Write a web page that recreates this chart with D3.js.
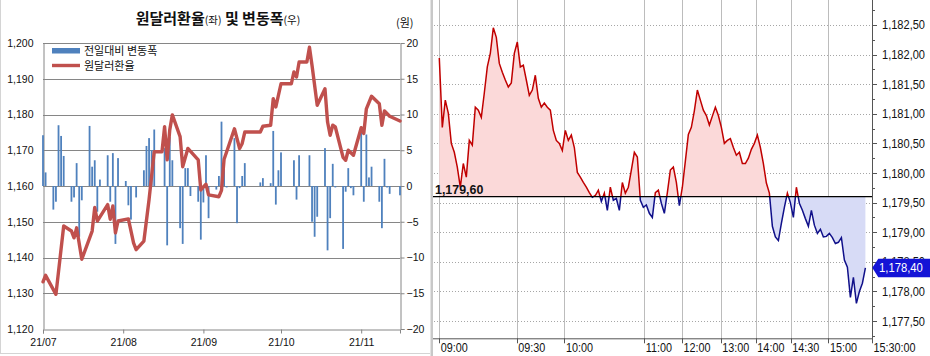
<!DOCTYPE html>
<html><head><meta charset="utf-8">
<script src="https://cdn.jsdelivr.net/npm/d3@7"></script>
<style>
html,body{margin:0;padding:0;background:#fff;}
svg{display:block;}
</style></head><body>
<svg id="c" width="930" height="356"></svg>
<script>
// ---------- left chart data ----------
const rateDates = ["2021-07-01","2021-07-02","2021-07-06","2021-07-09","2021-07-12","2021-07-13","2021-07-14","2021-07-16","2021-07-20","2021-07-21","2021-07-22","2021-07-26","2021-07-27","2021-07-28","2021-07-29","2021-07-30","2021-08-03","2021-08-05","2021-08-06","2021-08-09","2021-08-11","2021-08-13","2021-08-16","2021-08-17","2021-08-18","2021-08-19","2021-08-20","2021-08-23","2021-08-24","2021-08-26","2021-08-30","2021-08-31","2021-09-02","2021-09-03","2021-09-07","2021-09-08","2021-09-09","2021-09-10","2021-09-13","2021-09-15","2021-09-16","2021-09-17","2021-09-23","2021-09-24","2021-09-27","2021-09-28","2021-09-29","2021-10-01","2021-10-05","2021-10-06","2021-10-07","2021-10-08","2021-10-11","2021-10-12","2021-10-13","2021-10-15","2021-10-18","2021-10-19","2021-10-20","2021-10-21","2021-10-22","2021-10-25","2021-10-26","2021-10-27","2021-10-29","2021-11-01","2021-11-02","2021-11-03","2021-11-05","2021-11-08","2021-11-09","2021-11-10","2021-11-12","2021-11-16"];
const rateValues = [1133.2,1135.0,1129.7,1148.8,1147.4,1145.5,1148.3,1139.5,1147.4,1154.0,1150.2,1154.8,1150.7,1154.4,1146.9,1150.2,1150.8,1144.1,1142.2,1144.6,1156.2,1169.6,1169.6,1176.6,1167.3,1175.7,1179.9,1173.8,1165.4,1170.5,1167.3,1158.9,1160.5,1157.5,1157.0,1158.8,1167.5,1169.6,1176.0,1170.5,1171.9,1175.1,1175.1,1176.7,1177.0,1184.4,1182.1,1188.6,1188.6,1191.9,1190.5,1194.7,1194.7,1198.8,1193.7,1182.6,1187.2,1177.9,1174.2,1177.0,1176.5,1168.0,1167.2,1170.0,1168.6,1176.3,1174.7,1181.6,1185.1,1183.0,1177.0,1181.0,1179.5,1178.2];
const changeDates = ["2021-07-01","2021-07-02","2021-07-05","2021-07-06","2021-07-07","2021-07-08","2021-07-09","2021-07-12","2021-07-13","2021-07-14","2021-07-15","2021-07-16","2021-07-19","2021-07-20","2021-07-21","2021-07-22","2021-07-23","2021-07-26","2021-07-27","2021-07-28","2021-07-29","2021-07-30","2021-08-02","2021-08-03","2021-08-04","2021-08-06","2021-08-09","2021-08-10","2021-08-11","2021-08-12","2021-08-13","2021-08-17","2021-08-18","2021-08-19","2021-08-20","2021-08-23","2021-08-24","2021-08-25","2021-08-26","2021-08-27","2021-08-30","2021-08-31","2021-09-01","2021-09-02","2021-09-03","2021-09-06","2021-09-07","2021-09-08","2021-09-09","2021-09-10","2021-09-13","2021-09-14","2021-09-15","2021-09-16","2021-09-17","2021-09-23","2021-09-24","2021-09-27","2021-09-28","2021-09-29","2021-09-30","2021-10-01","2021-10-06","2021-10-07","2021-10-08","2021-10-12","2021-10-13","2021-10-14","2021-10-15","2021-10-18","2021-10-19","2021-10-20","2021-10-21","2021-10-22","2021-10-25","2021-10-26","2021-10-27","2021-10-28","2021-10-29","2021-11-01","2021-11-02","2021-11-03","2021-11-04","2021-11-05","2021-11-08","2021-11-09","2021-11-10","2021-11-11","2021-11-12","2021-11-16"];
const changeValues = [7.1,1.9,-3.3,-2.2,8.5,7.0,4.2,-2.2,-1.6,3.2,-7.1,-2.0,8.4,2.7,3.6,-3.6,0.9,4.3,-2.2,4.6,-8.1,3.9,0.7,-2.7,-4.7,-1.6,2.2,5.6,6.7,5.0,7.9,5.3,-8.3,6.9,3.6,-5.9,-8.1,2.5,2.5,-1.4,-2.2,-7.5,-2.3,4.3,-4.5,-0.5,1.4,9.0,2.5,-0.2,6.7,-5.2,-0.3,1.4,3.2,0.5,1.1,0.4,7.7,-2.6,2.2,4.7,3.6,-1.9,4.3,4.3,-5.0,-7.1,-4.3,5.3,-9.0,-4.5,3.1,-0.2,-8.8,-0.8,2.5,-0.3,-1.3,7.8,-2.2,7.2,1.2,2.7,-2.2,-5.9,3.8,-0.2,-1.1,-1.3];
const monthTickDates = ["2021-07-01","2021-08-01","2021-09-01","2021-10-01","2021-11-01"];
const monthTickLabels = ["21/07","21/08","21/09","21/10","21/11"];
const leftTicks = [1120,1130,1140,1150,1160,1170,1180,1190,1200];
const rightTicks = [-20,-15,-10,-5,0,5,10,15,20];

// ---------- right chart data ----------
const prevClose = 1179.60;
const lastPrice = 1178.40;
const intraday = [1181.94,1180.77,1181.23,1181.01,1180.50,1180.35,1180.10,1179.76,1180.16,1179.93,
1180.55,1180.47,1181.11,1181.06,1180.94,1181.35,1181.79,1182.02,1182.45,1182.29,
1181.85,1181.70,1181.57,1181.45,1181.52,1182.02,1182.21,1181.79,1181.82,1181.57,
1181.31,1181.40,1181.65,1181.26,1181.11,1181.18,1181.11,1181.06,1180.72,1180.55,
1180.50,1180.38,1180.72,1180.55,1180.64,1180.43,1180.01,1179.93,1179.84,1179.76,
1179.67,1179.59,1179.62,1179.71,1179.52,1179.66,1179.37,1179.76,1179.54,1179.57,
1179.37,1179.84,1179.66,1179.76,1180.05,1180.35,1180.27,1179.54,1179.42,1179.46,
1179.32,1179.25,1179.67,1179.71,1179.49,1179.32,1179.67,1180.05,1180.10,1179.84,
1179.45,1179.76,1180.20,1180.65,1180.77,1181.05,1181.40,1181.23,1181.06,1180.97,
1180.81,1180.96,1181.11,1180.97,1180.77,1180.50,1180.55,1180.58,1180.43,1180.30,
1180.35,1180.16,1180.16,1180.25,1180.40,1180.50,1180.64,1180.43,1180.16,1179.83,
1179.66,1179.10,1178.92,1178.86,1179.15,1179.42,1179.66,1179.50,1179.25,1179.76,
1179.49,1179.37,1179.23,1179.10,1179.37,1179.12,1178.98,1179.05,1178.92,1178.93,
1178.98,1178.91,1178.81,1178.83,1178.91,1178.53,1178.41,1177.90,1178.24,1177.80,
1178.00,1178.14,1178.40];
const timeLabels = ["09:00","09:30","10:00","11:00","12:00","13:00","14:00","14:30","15:00","15:30:00"];
const timeTickIndex = [0,25.8,41.7,68.3,80.9,93.8,105.5,117.1,129.7,144.2];
const priceTicks = [1177.5,1178.0,1178.5,1179.0,1179.5,1180.0,1180.5,1181.0,1181.5,1182.0,1182.5];
const priceMinorTicks = [1177.25,1177.75,1178.25,1178.75,1179.25,1179.75,1180.25,1180.75,1181.25,1181.75,1182.25,1182.75];

// ---------- drawing ----------
const svg = d3.select("#c");
const parse = d3.timeParse("%Y-%m-%d");
const KFONT = "'Noto Sans CJK KR','Noto Sans',sans-serif";
const NFONT = "'Liberation Sans',Arial,sans-serif";

function squeeze(sel, f){
  sel.each(function(){
    const w = this.getComputedTextLength();
    d3.select(this).attr("textLength", w*f).attr("lengthAdjust","spacingAndGlyphs");
  });
}

// ===== LEFT =====
const L = {left:43, right:400, top:43, bottom:329};
const xL = d3.scaleTime().domain([parse("2021-07-01"), parse("2021-11-16")]).range([L.left, L.right]);
const yL = d3.scaleLinear().domain([1120,1200]).range([L.bottom, L.top]);
const yR = d3.scaleLinear().domain([-20,20]).range([L.bottom, L.top]);
const gridCol = "#868686";

const gl = svg.append("g");
gl.append("line").attr("x1",0.5).attr("x2",0.5).attr("y1",0).attr("y2",353).attr("stroke","#d4d4d4");
gl.append("line").attr("x1",0).attr("x2",430).attr("y1",353.5).attr("y2",353.5).attr("stroke","#d4d4d4");

gl.selectAll("line.grid").data(leftTicks.slice(1)).join("line")
  .attr("x1",L.left).attr("x2",L.right)
  .attr("y1",d=>Math.round(yL(d))+0.5).attr("y2",d=>Math.round(yL(d))+0.5)
  .attr("stroke",gridCol).attr("stroke-width",1);

const axL = gl.append("g").attr("transform",`translate(${L.left+0.5},0)`)
  .call(d3.axisLeft(yL).tickValues(leftTicks).tickFormat(d3.format(",")).tickSize(0).tickPadding(10));
axL.select(".domain").attr("stroke",gridCol);
axL.selectAll("text").attr("font-family",NFONT).attr("font-size",10.5).attr("fill","#111");

const axR = gl.append("g").attr("transform",`translate(${L.right+0.5},0)`)
  .call(d3.axisRight(yR).tickValues(rightTicks).tickSize(4).tickPadding(2));
axR.select(".domain").attr("stroke",gridCol);
axR.selectAll(".tick line").attr("stroke",gridCol);
axR.selectAll("text").attr("font-family",NFONT).attr("font-size",10.5).attr("fill","#111");

const axB = gl.append("g").attr("transform",`translate(0,${L.bottom+0.5})`)
  .call(d3.axisBottom(xL).tickValues(monthTickDates.map(parse)).tickFormat((d,i)=>monthTickLabels[i]).tickSize(4).tickPadding(5));
axB.select(".domain").attr("stroke",gridCol);
axB.selectAll(".tick line").attr("stroke",gridCol);
axB.selectAll("text").attr("font-family",NFONT).attr("font-size",10.5).attr("fill","#111");

const barData = changeDates.map((d,i)=>({d:parse(d), v:changeValues[i]}));
gl.selectAll("rect.bar").data(barData).join("rect")
  .attr("x",d=>xL(d.d)-0.9).attr("width",1.8)
  .attr("y",d=>Math.min(yR(0),yR(d.v)))
  .attr("height",d=>Math.abs(yR(d.v)-yR(0)))
  .attr("fill","#4f81bd");

const rateData = rateDates.map((d,i)=>({d:parse(d), v:rateValues[i]}));
gl.append("path").datum(rateData)
  .attr("d", d3.line().x(d=>xL(d.d)).y(d=>yL(d.v)))
  .attr("fill","none").attr("stroke","#c0504d").attr("stroke-width",3.4)
  .attr("stroke-linejoin","round").attr("stroke-linecap","round");

const title = gl.append("text").attr("x",218).attr("y",24).attr("text-anchor","middle")
  .attr("font-family",KFONT).attr("font-size",15).attr("font-weight","bold").attr("fill","#111");
title.append("tspan").text("원달러환율");
title.append("tspan").attr("font-size",10.5).attr("font-weight","normal").text("(좌)");
title.append("tspan").text(" 및 변동폭");
title.append("tspan").attr("font-size",10.5).attr("font-weight","normal").text("(우)");
gl.append("text").attr("x",396).attr("y",27).attr("font-family",KFONT).attr("font-size",11).attr("fill","#111").text("(원)");

gl.append("rect").attr("x",52).attr("y",48).attr("width",28).attr("height",5.5).attr("fill","#4f81bd");
gl.append("text").attr("x",84).attr("y",55).attr("font-family",KFONT).attr("font-size",11).attr("fill","#111").text("전일대비 변동폭");
gl.append("line").attr("x1",52).attr("x2",80).attr("y1",65.5).attr("y2",65.5).attr("stroke","#c0504d").attr("stroke-width",3.4);
gl.append("text").attr("x",84).attr("y",70).attr("font-family",KFONT).attr("font-size",11).attr("fill","#111").text("원달러환율");

svg.append("rect").attr("x",430.5).attr("y",0).attr("width",2.5).attr("height",356).attr("fill","#c8c8c8");

// ===== RIGHT =====
const R = {left:433, right:872, top:0, bottom:338.3};
const xI = d3.scaleLinear().domain([0, timeTickIndex[timeTickIndex.length-1]]).range([439.3, R.right]);
const yI = d3.scaleLinear().domain([1177.21, 1182.92]).range([R.bottom, R.top]);
const gr = svg.append("g");

gr.selectAll("line.hg").data(priceTicks).join("line")
  .attr("x1",R.left+1).attr("x2",R.right)
  .attr("y1",d=>Math.round(yI(d))+0.5).attr("y2",d=>Math.round(yI(d))+0.5)
  .attr("stroke","#a6a6a6").attr("stroke-dasharray","1,2");
gr.selectAll("line.vg").data(timeTickIndex.slice(0,-1)).join("line")
  .attr("x1",d=>Math.round(xI(d))+0.5).attr("x2",d=>Math.round(xI(d))+0.5)
  .attr("y1",R.top).attr("y2",R.bottom)
  .attr("stroke","#bcbcbc");

const yBase = yI(prevClose);
const defs = svg.append("defs");
defs.append("clipPath").attr("id","above").append("rect")
  .attr("x",R.left).attr("y",R.top).attr("width",R.right-R.left).attr("height",yBase-R.top);
defs.append("clipPath").attr("id","below").append("rect")
  .attr("x",R.left).attr("y",yBase).attr("width",R.right-R.left).attr("height",R.bottom-yBase);

const area = d3.area().x((d,i)=>xI(i)).y0(yBase).y1(d=>yI(d));
const line = d3.line().x((d,i)=>xI(i)).y(d=>yI(d));
gr.append("path").datum(intraday).attr("d",area).attr("fill","#fbd9d9").attr("clip-path","url(#above)");
gr.append("path").datum(intraday).attr("d",area).attr("fill","#d7dbf6").attr("clip-path","url(#below)");
gr.append("path").datum(intraday).attr("d",line).attr("fill","none").attr("stroke","#c00000").attr("stroke-width",1.5).attr("clip-path","url(#above)");
gr.append("path").datum(intraday).attr("d",line).attr("fill","none").attr("stroke","#10108a").attr("stroke-width",1.5).attr("clip-path","url(#below)");

gr.append("line").attr("x1",R.left).attr("x2",R.right).attr("y1",yBase).attr("y2",yBase).attr("stroke","#000").attr("stroke-width",1.2);
const fmtK = v => d3.format(",.2f")(v).replace(".",",");
gr.append("text").attr("x",435).attr("y",yBase-2.5).attr("font-family",NFONT).attr("font-size",13.5).attr("font-weight","bold").attr("fill","#111").text(fmtK(prevClose))
  .call(squeeze,0.92);

gr.append("line").attr("x1",R.left).attr("x2",R.right).attr("y1",R.bottom+0.5).attr("y2",R.bottom+0.5).attr("stroke","#555");
gr.append("line").attr("x1",R.right+0.5).attr("x2",R.right+0.5).attr("y1",0).attr("y2",R.bottom+0.5).attr("stroke","#555");
gr.selectAll("line.bt").data(timeTickIndex).join("line")
  .attr("x1",d=>Math.round(xI(d))+0.5).attr("x2",d=>Math.round(xI(d))+0.5)
  .attr("y1",R.bottom).attr("y2",R.bottom+5).attr("stroke","#555");
gr.selectAll("text.tl").data(timeLabels).join("text")
  .attr("x",(d,i)=>xI(timeTickIndex[i])+1.5).attr("y",351.5)
  .attr("font-family",NFONT).attr("font-size",13.5).attr("fill","#111").text(d=>d)
  .call(squeeze,0.8);
gr.selectAll("line.rt").data(priceTicks).join("line")
  .attr("x1",R.right).attr("x2",R.right+5)
  .attr("y1",d=>Math.round(yI(d))+0.5).attr("y2",d=>Math.round(yI(d))+0.5).attr("stroke","#555");
gr.selectAll("line.rmt").data(priceMinorTicks).join("line")
  .attr("x1",R.right).attr("x2",R.right+3)
  .attr("y1",d=>Math.round(yI(d))+0.5).attr("y2",d=>Math.round(yI(d))+0.5).attr("stroke","#555");
gr.selectAll("text.pl").data(priceTicks).join("text")
  .attr("x",882).attr("y",d=>yI(d)+4.5)
  .attr("font-family",NFONT).attr("font-size",12).attr("fill","#111").text(d=>fmtK(d))
  .call(squeeze,0.92);

const yLast = yI(lastPrice);
gr.append("path")
  .attr("d",`M${R.right+0.3},${yLast} L${R.right+6.3},${yLast-9} L930,${yLast-9} L930,${yLast+9.5} L${R.right+6.3},${yLast+9.5} Z`)
  .attr("fill","#1414d6");
gr.append("text").attr("x",879).attr("y",yLast+4.5)
  .attr("font-family",NFONT).attr("font-size",12.5).attr("fill","#fff").text(fmtK(lastPrice))
  .call(squeeze,0.9);
</script>
</body></html>
